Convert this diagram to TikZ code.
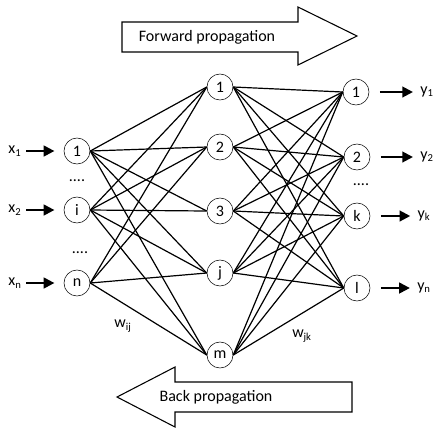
\documentclass[tikz,border=0pt]{standalone}
\usepackage{fontspec}
\setmainfont{Carlito}
\usetikzlibrary{positioning,arrows.meta}

\begin{document}
\begin{tikzpicture}[x=0.75pt,y=-0.75pt,font=\large,
  neuron/.style={draw, circle, minimum size=19.5pt, inner sep=0pt},
  link/.style={line width=0.9pt},
  signal/.style={line width=1.6pt, -{Triangle[length=8pt,width=8pt]}},
  bigarrow/.style={draw, line width=0.8pt, line join=miter}]
\useasboundingbox (0,0) rectangle (435,430);

% Layers
\node[neuron] (i1) at (77,151) {1};
\node[neuron] (i2) at (77,210) {i};
\node[neuron] (i3) at (77,283) {n};

\node[neuron] (h1) at (220,87) {1};
\node[neuron] (h2) at (220,147) {2};
\node[neuron] (h3) at (220,211) {3};
\node[neuron] (h4) at (220,273) {j};
\node[neuron] (h5) at (220,355) {m};

\node[neuron] (o1) at (356,92) {1};
\node[neuron] (o2) at (357,157) {2};
\node[neuron] (o3) at (357,216) {k};
\node[neuron] (o4) at (357,288) {l};

% Weights
\foreach \a in {1,2} {
    \foreach \b in {1,...,5} {
        \draw[link] (i\a.east) -- (h\b.west);
    }
}
\foreach \b in {1,2,4,5} {
    \draw[link] (i3.east) -- (h\b.west);
}
\foreach \a in {1,...,5} {
    \foreach \b in {1,...,4} {
        \draw[link] (h\a.east) -- (o\b.west);
    }
}

% Inputs and outputs
\node (x1) at (15,151) {x\textsubscript{1}};
\node (x2) at (15,210) {x\textsubscript{2}};
\node (x3) at (15,283) {x\textsubscript{n}};
\foreach \a in {1,2,3} {
    \draw[signal, shorten >=7pt] (x\a) -- (i\a);
}
\node (y1) at (427,92) {y\textsubscript{1}};
\node (y2) at (427,157) {y\textsubscript{2}};
\node (y3) at (424,216) {y\textsubscript{k}};
\node (y4) at (424,288) {y\textsubscript{n}};
\foreach \b in {1,...,4} {
    \draw[signal, shorten <=8pt, shorten >=2pt] (o\b) -- (y\b);
}

% Dots and labels
\node (dots1) at (77,181) {....};
\node (dots2) at (80,253) {....};
\node (dots3) at (361,185) {....};
\node (wij) at (123,326) {w\textsubscript{ij}};
\node (wjk) at (302,336) {w\textsubscript{jk}};

% Propagation arrows
\draw[bigarrow] (122,22) -- (298,22) -- (298,7) -- (357,36) -- (298,65)
    -- (298,52) -- (122,52) -- cycle;
\node (fwd) at (207,37) {Forward propagation};
\draw[bigarrow] (117,397) -- (175,367) -- (175,382) -- (352,382)
    -- (352,412) -- (175,412) -- (175,427) -- cycle;
\node (back) at (216,397) {Back propagation};
\end{tikzpicture}
\end{document}
